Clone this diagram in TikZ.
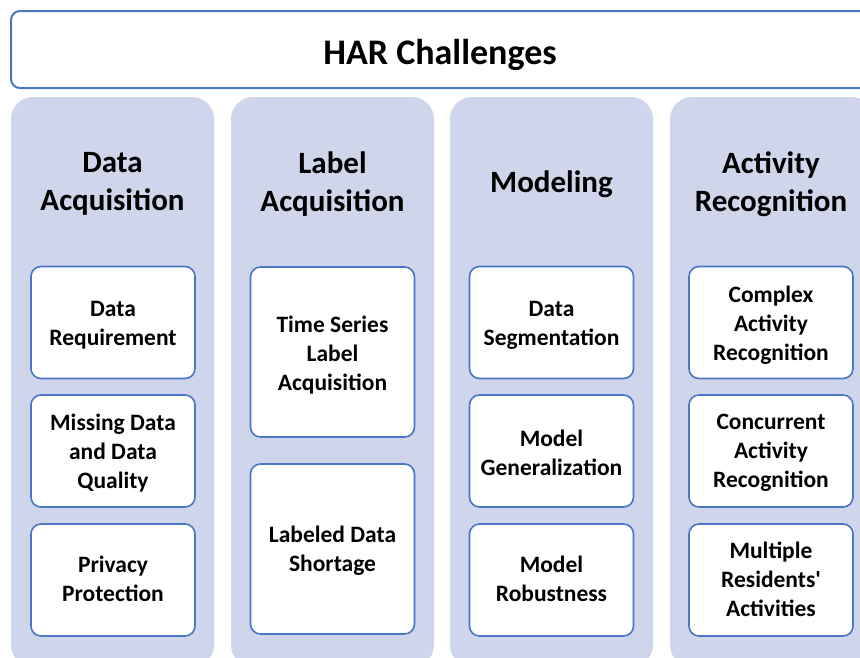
\documentclass[tikz,border=0pt]{standalone}
\usepackage{fontspec}
\setmainfont{Carlito}
\definecolor{colfill}{HTML}{CFD5EA}
\definecolor{itemblue}{HTML}{4A76C6}
\newcommand{\itemfont}{\fontsize{23.5}{29}\selectfont\bfseries}
\newcommand{\colfont}{\fontsize{31}{38}\selectfont\bfseries}
\newcommand{\harfont}{\fontsize{36}{43}\selectfont\bfseries}
\tikzset{
  colbox/.style={fill=colfill, rounded corners=22pt, minimum width=203pt, minimum height=570pt, inner sep=0pt},
  coltitle/.style={align=center, font=\colfont, inner sep=0pt},
  itembox/.style={draw=itemblue, line width=1.6pt, fill=white, rounded corners=10pt, inner sep=0pt, minimum width=164pt},
  itemtext/.style={align=center, font=\itemfont, inner sep=0pt},
  shortbox/.style={itembox, minimum height=112pt},
  tallbox/.style={itembox, minimum height=170pt},
  titlebox/.style={draw=itemblue, line width=2pt, fill=white, rounded corners=9pt, minimum width=858pt, minimum height=77pt, inner sep=0pt}
}
\newcommand{\itemnode}[5]{\node[#1] (#2) at #3 {}; \node[itemtext] (#2t) at ([yshift=#4]#2.center) {#5};}
\begin{document}
\begin{tikzpicture}[x=1pt,y=-1pt]
\useasboundingbox (0,0) rectangle (860,657);
\clip (0,0) rectangle (860,657);
\fill[white] (0,0) rectangle (860,657);
\node[titlebox] (har) at (440,49.5) {};
\node[font=\harfont, inner sep=0pt] (hartext) at (440,55) {HAR Challenges};
% columns
\node[colbox] (c1) at (112.5,382) {};
\node[colbox] (c2) at (332.5,382) {};
\node[colbox] (c3) at (551.5,382) {};
\node[colbox] (c4) at (771.5,382) {};
\node[coltitle] (t1) at (112.5,184) {Data\\Acquisition};
\node[coltitle] (t2) at (332.5,184) {Label\\Acquisition};
\node[coltitle] (t3) at (551.5,184) {Modeling};
\node[coltitle] (t4) at (771,184) {Activity\\Recognition};
% column 1
\itemnode{shortbox}{a1}{(113,322.5)}{-3pt}{Data\\Requirement}
\itemnode{shortbox}{a2}{(113,451)}{-2pt}{Missing Data\\and Data\\Quality}
\itemnode{shortbox}{a3}{(113,580)}{1pt}{Privacy\\Protection}
% column 2
\itemnode{tallbox}{b1}{(332.5,352)}{-3pt}{Time Series\\Label\\Acquisition}
\itemnode{tallbox}{b2}{(332.5,549)}{-2pt}{Labeled Data\\Shortage}
% column 3
\itemnode{shortbox}{m1}{(551.5,322.5)}{-3pt}{Data\\Segmentation}
\itemnode{shortbox}{m2}{(551.5,451)}{-2pt}{Model\\Generalization}
\itemnode{shortbox}{m3}{(551.5,580)}{1pt}{Model\\Robustness}
% column 4
\itemnode{shortbox}{r1}{(771,322.5)}{-3pt}{Complex\\Activity\\Recognition}
\itemnode{shortbox}{r2}{(771,451)}{-2pt}{Concurrent\\Activity\\Recognition}
\itemnode{shortbox}{r3}{(771,580)}{1pt}{Multiple\\Residents\textquotesingle\\Activities}
\end{tikzpicture}
\end{document}
